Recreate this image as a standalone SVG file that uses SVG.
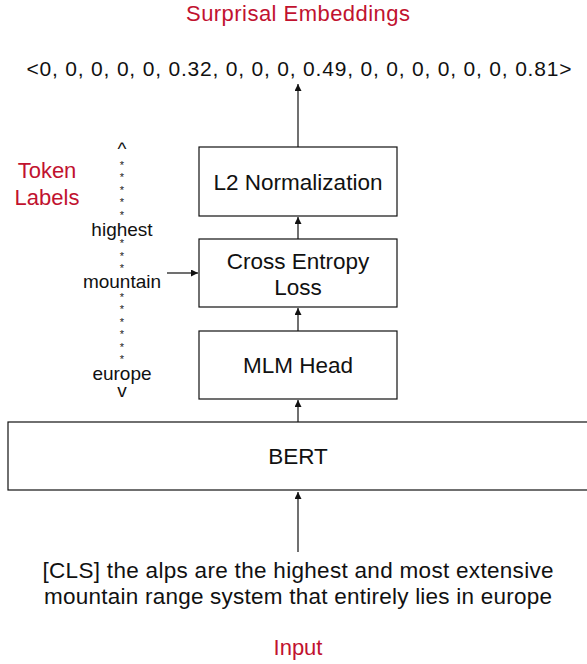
<svg xmlns="http://www.w3.org/2000/svg" width="587" height="664" viewBox="0 0 587 664">
<style>
text{font-family:"Liberation Sans",Arial,sans-serif;fill:#111}
.red{fill:#c1122f;font-size:22px}
.box{fill:#fff;stroke:#111;stroke-width:1.2}
.lbl{font-size:22.5px;text-anchor:middle}
.tok{font-size:19px;text-anchor:middle}
.star{font-size:11px;text-anchor:middle;fill:#222}
.edge{stroke:#111;stroke-width:1.2;fill:none;marker-end:url(#ah)}
</style>
<defs>
<marker id="ah" viewBox="0 0 10 10" refX="10" refY="5" markerWidth="7" markerHeight="7" markerUnits="userSpaceOnUse" orient="auto">
<path d="M0,0 L10,5 L0,10 z" fill="#111"/>
</marker>
</defs>
<rect width="587" height="664" fill="#fff"/>
<text class="red" x="298" y="21" text-anchor="middle" textLength="224" lengthAdjust="spacing">Surprisal Embeddings</text>
<text x="299" y="76" text-anchor="middle" font-size="21" textLength="545" lengthAdjust="spacing">&lt;0, 0, 0, 0, 0, 0.32, 0, 0, 0, 0.49, 0, 0, 0, 0, 0, 0, 0.81&gt;</text>
<g id="token-labels">
<text class="red" x="47" y="178" text-anchor="middle">Token</text>
<text class="red" x="47" y="205" text-anchor="middle">Labels</text>
<text class="tok" x="122" y="155" font-size="15">^</text>
<text class="star" x="122" y="168.5">*</text>
<text class="star" x="122" y="181">*</text>
<text class="star" x="122" y="193.5">*</text>
<text class="star" x="122" y="206">*</text>
<text class="star" x="122" y="218.5">*</text>
<text class="tok" x="122" y="236">highest</text>
<text class="star" x="122" y="247">*</text>
<text class="star" x="122" y="259.5">*</text>
<text class="star" x="122" y="272">*</text>
<text class="tok" x="122" y="288">mountain</text>
<text class="star" x="122" y="300.5">*</text>
<text class="star" x="122" y="313">*</text>
<text class="star" x="122" y="325.5">*</text>
<text class="star" x="122" y="338">*</text>
<text class="star" x="122" y="350.5">*</text>
<text class="star" x="122" y="363">*</text>
<text class="tok" x="122" y="380">europe</text>
<text class="tok" x="122" y="397">v</text>
</g>
<g id="l2">
<rect class="box" x="199" y="147" width="198" height="69"/>
<text class="lbl" x="298" y="190">L2 Normalization</text>
</g>
<g id="ce">
<rect class="box" x="199" y="239" width="198" height="68"/>
<text class="lbl" x="298" y="269">Cross Entropy</text>
<text class="lbl" x="298" y="295">Loss</text>
</g>
<g id="mlm">
<rect class="box" x="199" y="331" width="198" height="68"/>
<text class="lbl" x="298" y="373">MLM Head</text>
</g>
<g id="bert">
<rect class="box" x="8" y="422" width="590" height="68"/>
<text class="lbl" x="298" y="464">BERT</text>
</g>
<g id="input">
<text class="lbl" x="298" y="578" textLength="511" lengthAdjust="spacing">[CLS] the alps are the highest and most extensive</text>
<text class="lbl" x="298" y="604" textLength="508" lengthAdjust="spacing">mountain range system that entirely lies in europe</text>
<text class="red" x="298" y="655" text-anchor="middle">Input</text>
</g>
<g id="connectors">
<line class="edge" x1="298" y1="147" x2="298" y2="84"/>
<line class="edge" x1="298" y1="239" x2="298" y2="217"/>
<line class="edge" x1="298" y1="331" x2="298" y2="308"/>
<line class="edge" x1="298" y1="422" x2="298" y2="400"/>
<line class="edge" x1="298" y1="552" x2="298" y2="492"/>
<line class="edge" x1="167" y1="273" x2="198" y2="273"/>
</g>
</svg>
